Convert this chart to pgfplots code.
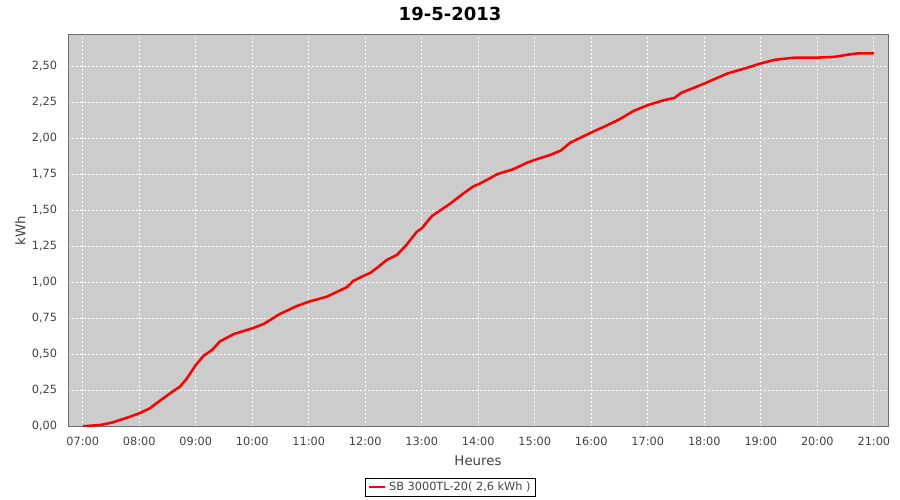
\documentclass[border=0pt]{standalone}
\usepackage{fontspec}
\setmainfont{DejaVu Sans}
\usepackage{pgfplots}
\pgfplotsset{compat=1.18}
\definecolor{plotbg}{RGB}{204,204,204}
\definecolor{framegray}{RGB}{110,110,110}
\definecolor{axisgray}{RGB}{128,128,128}
\definecolor{textgray}{RGB}{68,68,68}
\begin{document}
\begin{tikzpicture}
\path[use as bounding box, fill=white] (0pt,0pt) rectangle (675pt,375pt);
\begin{axis}[
  at={(51pt,54.75pt)}, anchor=south west,
  scale only axis, width=615pt, height=294pt,
  xmin=6.74, xmax=21.25, ymin=-0.005, ymax=2.717,
  axis background/.style={fill=plotbg},
  axis line style={draw=framegray, line width=0.75pt},
  major tick length=0pt,
  xtick={7,8,...,21},
  xticklabels={07:00,08:00,09:00,10:00,11:00,12:00,13:00,14:00,15:00,16:00,17:00,18:00,19:00,20:00,21:00},
  ytick={0,0.25,0.5,0.75,1,1.25,1.5,1.75,2,2.25,2.5},
  /pgf/number format/.cd, use comma, fixed, fixed zerofill, precision=2, assume math mode=true,
  /pgfplots/.cd,
  ticklabel style={font=\fontsize{8.5}{10}\selectfont, text=textgray},
  yticklabel style={anchor=east, inner sep=0pt, xshift=-8pt},
  xticklabel style={anchor=north, inner sep=0pt, yshift=-7.3pt},
  grid=major,
  major grid style={draw=white, line width=0.6pt, dash pattern=on 1.5pt off 1.5pt},
  title={19-5-2013},
  title style={at={(0.4659,1)}, anchor=base, yshift=4.9pt, inner sep=0pt, font=\bfseries\fontsize{13.5}{16}\selectfont},
  xlabel={Heures},
  xlabel style={at={(0.5,0)}, anchor=base, yshift=-29.25pt, inner sep=0pt, font=\fontsize{10}{12}\selectfont, text=textgray},
  ylabel={kWh},
  ylabel style={at={(0,0.5)}, anchor=base, yshift=32pt, inner sep=0pt, font=\fontsize{10}{12}\selectfont, text=textgray},
  legend style={at={(0.4665,-0.1543)}, anchor=center, draw=black, line width=0.75pt, fill=white,
    font=\fontsize{8.5}{10}\selectfont, text=textgray, inner xsep=1.5pt, inner ysep=1pt},
  legend image code/.code={\draw[red, line width=1.5pt] (0pt,0pt) -- (12.5pt,0pt);},
]
\addplot[red, line width=1.9pt, line join=round] coordinates {
(7.00,0.000) (7.17,0.005) (7.33,0.010) (7.54,0.028) (7.84,0.067) (8.00,0.090)
(8.19,0.125) (8.34,0.170) (8.55,0.230) (8.72,0.275) (8.84,0.330) (9.00,0.425)
(9.14,0.490) (9.29,0.530) (9.43,0.590) (9.67,0.640) (10.00,0.680) (10.20,0.710)
(10.49,0.780) (10.79,0.835) (11.00,0.865) (11.32,0.900) (11.67,0.965) (11.79,1.010)
(12.00,1.050) (12.09,1.065) (12.24,1.110) (12.38,1.155) (12.56,1.190) (12.73,1.260)
(12.91,1.350) (13.00,1.375) (13.18,1.460) (13.33,1.500) (13.50,1.545) (13.73,1.615)
(13.91,1.665) (14.00,1.680) (14.15,1.710) (14.33,1.750) (14.62,1.785) (14.86,1.830)
(15.00,1.850) (15.28,1.885) (15.46,1.915) (15.63,1.970) (16.00,2.040) (16.28,2.090)
(16.49,2.130) (16.75,2.190) (17.00,2.230) (17.29,2.265) (17.47,2.280) (17.59,2.315)
(18.00,2.380) (18.41,2.450) (18.76,2.490) (19.00,2.520) (19.25,2.545) (19.60,2.560)
(20.00,2.560) (20.30,2.565) (20.53,2.580) (20.73,2.590) (21.00,2.590)
};
\addlegendentry{SB 3000TL-20( 2,6 kWh )}
% offset axis lines and tick marks
\draw[axisgray, line width=0.75pt] ([xshift=-3pt]rel axis cs:0,0) -- ([xshift=-3pt]rel axis cs:0,1);
\draw[axisgray, line width=0.75pt] ([yshift=-2.25pt]rel axis cs:0,0) -- ([yshift=-2.25pt]rel axis cs:1,0);
\pgfplotsinvokeforeach{0,0.25,0.5,0.75,1,1.25,1.5,1.75,2,2.25,2.5}{
  \draw[axisgray, line width=0.75pt] ([xshift=-3pt]axis cs:6.74,#1) -- ++(-2.5pt,0);
}
\pgfplotsinvokeforeach{7,8,9,10,11,12,13,14,15,16,17,18,19,20,21}{
  \draw[axisgray, line width=0.75pt] ([yshift=-2.25pt]axis cs:#1,-0.005) -- ++(0,-2.5pt);
}
\end{axis}
\end{tikzpicture}
\end{document}
